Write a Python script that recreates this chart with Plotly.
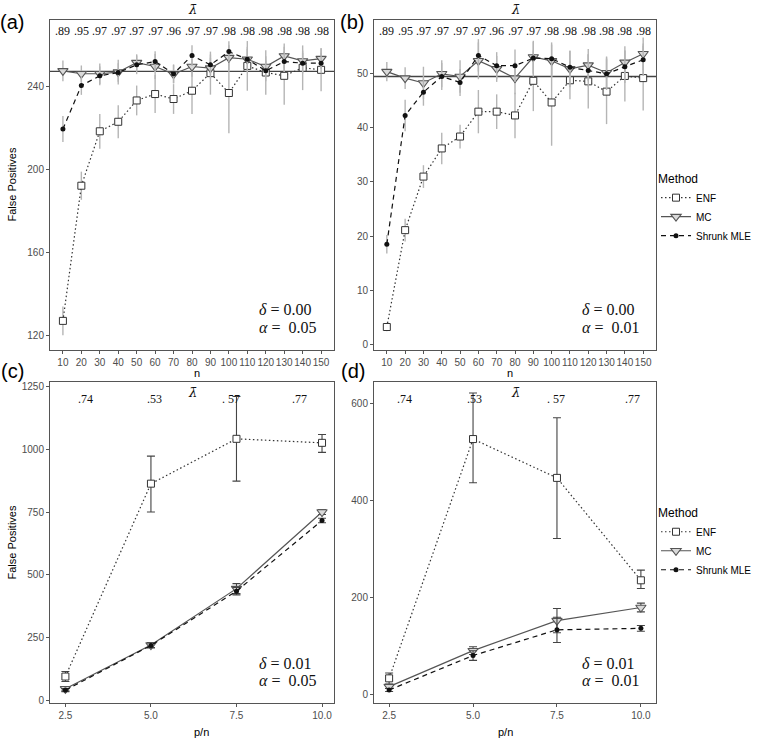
import plotly.graph_objects as go

W, H = 758, 742

# ---------------- data ----------------
n_vals = [10, 20, 30, 40, 50, 60, 70, 80, 90, 100, 110, 120, 130, 140, 150]
lam_top = [".89", ".95", ".97", ".97", ".97", ".97", ".96", ".97", ".97", ".98", ".98", ".98", ".98", ".98", ".98"]

a_enf = [126.9, 192.2, 218.5, 223.1, 233.4, 236.5, 234.1, 238.1, 246.6, 237.0, 250.1, 246.9, 245.3, 249.2, 248.2]
a_enf_err = [7.0, 6.8, 8.4, 8.0, 7.2, 9.2, 7.2, 11.2, 10.4, 19.5, 12.0, 10.8, 14.0, 10.8, 10.4]
a_mc = [247.7, 246.3, 246.3, 247.1, 251.7, 249.8, 246.1, 249.8, 249.0, 254.1, 253.3, 249.8, 254.9, 252.5, 253.6]
a_mc_err = [5.0, 4.0, 5.0, 6.0, 4.0, 6.0, 4.5, 5.0, 5.0, 6.0, 6.0, 5.0, 6.0, 5.0, 5.0]
a_mle = [219.6, 240.6, 245.3, 246.9, 250.6, 252.2, 246.3, 255.1, 250.6, 257.0, 253.3, 247.7, 252.2, 251.4, 251.4]
a_mle_err = [6.3, 4.5, 4.5, 4.5, 4.5, 5.0, 4.5, 5.0, 5.0, 5.0, 5.0, 5.0, 5.0, 5.0, 5.0]
a_expected = 247.5

b_enf = [3.2, 21.1, 31.0, 36.2, 38.4, 43.0, 43.0, 42.3, 48.7, 44.7, 48.8, 48.6, 46.7, 49.6, 49.2]
b_enf_err = [0.8, 2.1, 2.1, 2.9, 2.2, 4.0, 3.2, 4.2, 5.6, 8.0, 3.5, 5.0, 6.0, 4.7, 6.0]
b_mc = [50.4, 49.2, 48.3, 50.0, 49.5, 52.4, 50.9, 49.2, 53.1, 52.4, 50.9, 51.6, 50.2, 52.1, 53.7]
b_mc_err = [1.8, 2.0, 3.0, 2.5, 3.0, 3.4, 2.4, 3.0, 3.0, 3.0, 3.4, 3.0, 3.0, 3.0, 3.0]
b_mle = [18.5, 42.3, 46.6, 49.5, 48.4, 53.4, 51.5, 51.5, 52.9, 52.8, 51.2, 50.6, 50.0, 51.3, 52.6]
b_mle_err = [1.7, 2.9, 2.5, 2.5, 2.5, 3.0, 2.5, 3.0, 3.0, 3.0, 3.0, 3.0, 3.0, 3.0, 3.0]
b_expected = 49.5

pn_vals = [2.5, 5.0, 7.5, 10.0]
lam_bot = [".74", ".53", ". 57", ".77"]

c_enf = [94, 864, 1043, 1027]
c_enf_up = [20, 110, 169, 33]
c_enf_dn = [20, 113, 169, 38]
c_mc = [45, 220, 445, 751]
c_mc_err = [8, 10, 20, 10]
c_mle = [40, 218, 435, 717]
c_mle_err = [6, 10, 15, 9]

d_enf = [34, 527, 447, 236]
d_enf_up = [11, 95, 124, 21]
d_enf_dn = [12, 90, 125, 17]
d_mc = [17, 91, 153, 180]
d_mc_err = [4, 8, 25, 9]
d_mle = [10, 81, 134, 137]
d_mle_err = [3, 10, 26, 6]

methods = ["ENF", "MC", "Shrunk MLE"]

# ---------------- styling ----------------
SANS = "Liberation Sans, Arial, sans-serif"
SERIF = "Liberation Serif, Times New Roman, serif"
LAMF = "DejaVu Serif, serif"

style = {
    "ENF": dict(line=dict(color="#333333", width=1.2, dash="1.5px,2.5px"),
                marker=dict(symbol="square", size=7, color="white",
                            line=dict(color="#333333", width=1))),
    "MC": dict(line=dict(color="#555555", width=1.2, dash="solid"),
               marker=dict(symbol="triangle-down", size=9, color="#d9d9d9",
                           line=dict(color="#555555", width=1.1))),
    "Shrunk MLE": dict(line=dict(color="#111111", width=1.2, dash="5px,4px"),
                       marker=dict(symbol="circle", size=5, color="#111111",
                                   line=dict(width=0))),
}

fig = go.Figure()


def add_panel(xs, series, axis_suffix, top, legend_name):
    xa = "x" + axis_suffix
    ya = "y" + axis_suffix
    for name, (vals, up, dn) in zip(methods, series):
        if top:
            err = dict(type="data", array=up, color="#b5b5b5", thickness=1.4, width=0)
        else:
            err = dict(type="data", array=up, arrayminus=dn, symmetric=False,
                       color="#444444", thickness=1.1, width=4)
        fig.add_trace(go.Scatter(
            x=xs, y=vals, mode="lines+markers", name=name,
            line=style[name]["line"], marker=style[name]["marker"],
            error_y=err, xaxis=xa, yaxis=ya,
            legend=legend_name,
            showlegend=(axis_suffix in ("", "3")),
        ))


add_panel(n_vals, [(a_enf, a_enf_err, a_enf_err), (a_mc, a_mc_err, a_mc_err),
                   (a_mle, a_mle_err, a_mle_err)], "", True, "legend")
add_panel(n_vals, [(b_enf, b_enf_err, b_enf_err), (b_mc, b_mc_err, b_mc_err),
                   (b_mle, b_mle_err, b_mle_err)], "2", True, "legend")
add_panel(pn_vals, [(c_enf, c_enf_up, c_enf_dn), (c_mc, c_mc_err, c_mc_err),
                    (c_mle, c_mle_err, c_mle_err)], "3", False, "legend2")
add_panel(pn_vals, [(d_enf, d_enf_up, d_enf_dn), (d_mc, d_mc_err, d_mc_err),
                    (d_mle, d_mle_err, d_mle_err)], "4", False, "legend2")

# ---------------- layout ----------------
x_left = [50 / W, 334 / W]
x_right = [374 / W, 656 / W]
y_top = [1 - 351 / H, 1 - 20 / H]
y_bot = [1 - 705 / H, 1 - 383 / H]

axis_common = dict(showline=True, linecolor="#555555", linewidth=1, mirror=True,
                   ticks="outside", ticklen=3, tickcolor="#555555", tickwidth=1,
                   tickfont=dict(family=SANS, size=10, color="#4d4d4d"),
                   showgrid=False, zeroline=False, tickangle=0)

leg_common = dict(xanchor="left", yanchor="top",
                  title=dict(text="Method", font=dict(family=SANS, size=12, color="#000")),
                  font=dict(family=SANS, size=10, color="#000"), itemwidth=30,
                  bgcolor="rgba(0,0,0,0)", tracegroupgap=0, borderwidth=0)

fig.update_layout(
    width=W, height=H, margin=dict(l=0, r=0, t=0, b=0),
    paper_bgcolor="white", plot_bgcolor="white",
    xaxis=dict(domain=x_left, anchor="y", range=[3, 157], tickmode="array",
               tickvals=n_vals, **axis_common),
    yaxis=dict(domain=y_top, anchor="x", range=[112.8, 272.3], dtick=40, tick0=0,
               **axis_common),
    xaxis2=dict(domain=x_right, anchor="y2", range=[3, 157], tickmode="array",
                tickvals=n_vals, **axis_common),
    yaxis2=dict(domain=y_top, anchor="x2", range=[-1.06, 59.95], dtick=10, tick0=0,
                **axis_common),
    xaxis3=dict(domain=x_left, anchor="y3", range=[2.05, 10.35], tickmode="array",
                tickvals=pn_vals, tickformat=".1f", **axis_common),
    yaxis3=dict(domain=y_bot, anchor="x3", range=[-12, 1270], dtick=250, tick0=0,
                **axis_common),
    xaxis4=dict(domain=x_right, anchor="y4", range=[2.05, 10.45], tickmode="array",
                tickvals=pn_vals, tickformat=".1f", **axis_common),
    yaxis4=dict(domain=y_bot, anchor="x4", range=[-17, 644.6], dtick=200, tick0=0,
                **axis_common),
    legend=dict(x=656 / W, y=1 - 168 / H, **leg_common),
    legend2=dict(x=656 / W, y=1 - 503 / H, **leg_common),
    showlegend=True,
)

# expected false positive reference lines
for xa, ya, val in [("x", "y", a_expected), ("x2", "y2", b_expected)]:
    fig.add_shape(type="line", xref=xa + " domain", x0=0, x1=1, yref=ya, y0=val, y1=val,
                  line=dict(color="#444444", width=1.3), layer="below")

ann = []
lam_sym = "<i>\u03bb\u0304</i>"

# lambda-bar labels, top panels
for xa, ya in [("x", "y"), ("x2", "y2")]:
    for xv, t in zip(n_vals, lam_top):
        ann.append(dict(x=xv, xref=xa, y=0.967, yref=ya + " domain", text=t, showarrow=False,
                        font=dict(family=SERIF, size=12, color="#111"), xanchor="center",
                        yanchor="middle"))
    ann.append(dict(x=0.5, xref=xa + " domain", y=1 - 10 / H, yref="paper", text=lam_sym,
                    showarrow=False, font=dict(family=LAMF, size=13, color="#111"),
                    yanchor="middle"))

# lambda-bar labels, bottom panels
lab_pos_c = [3.09, 5.09, 7.35, 9.33]
lab_pos_d = [2.96, 5.03, 7.47, 9.76]
for xa, ya, pos in [("x3", "y3", lab_pos_c), ("x4", "y4", lab_pos_d)]:
    for xv, t in zip(pos, lam_bot):
        ann.append(dict(x=xv, xref=xa, y=1 - (400 - 383) / 322, yref=ya + " domain", text=t,
                        showarrow=False, font=dict(family=SERIF, size=12, color="#111"),
                        yanchor="middle"))
    ann.append(dict(x=0.5, xref=xa + " domain", y=1 - (394 - 383) / 322, yref=ya + " domain",
                    text=lam_sym, showarrow=False,
                    font=dict(family=LAMF, size=13, color="#111"), yanchor="middle"))

# delta / alpha
params = [("x", "y", "0.00", "0.05", True), ("x2", "y2", "0.00", "0.01", True),
          ("x3", "y3", "0.01", "0.05", False), ("x4", "y4", "0.01", "0.01", False)]
for xa, ya, d, a, top in params:
    if top:
        yd, yal = (351 - 310) / 331, (351 - 328) / 331
    else:
        yd, yal = (705 - 665) / 322, (705 - 682) / 322
    for txt, yy in [("<i>\u03b4</i> = " + d, yd), ("<i>\u03b1</i> =\u00a0\u00a0" + a, yal)]:
        ann.append(dict(x=0.73, xref=xa + " domain", y=yy, yref=ya + " domain", text=txt,
                        showarrow=False, xanchor="left", yanchor="middle",
                        font=dict(family=SERIF, size=16, color="#111")))

# panel tags
for t, x, y in [("(a)", 12, 22), ("(b)", 352, 22), ("(c)", 12, 372), ("(d)", 353, 372)]:
    ann.append(dict(x=x / W, y=1 - y / H, xref="paper", yref="paper", text=t, showarrow=False,
                    font=dict(family=SANS, size=20, color="#000"), xanchor="center",
                    yanchor="middle"))

# axis titles
for xc, y, t in [(191.5, 374, "n"), (515, 374, "n"), (192, 734, "p/n"), (515, 734, "p/n")]:
    ann.append(dict(x=xc / W, y=1 - y / H, xref="paper", yref="paper", text=t, showarrow=False,
                    font=dict(family=SANS, size=11, color="#000"), yanchor="middle"))
for y in [185, 544]:
    ann.append(dict(x=12 / W, y=1 - y / H, xref="paper", yref="paper", text="False Positives",
                    textangle=-90, showarrow=False,
                    font=dict(family=SANS, size=11, color="#000"), xanchor="center",
                    yanchor="middle"))

fig.update_layout(annotations=ann)

fig.write_html("out.html", config={"displayModeBar": False},
               post_script="document.body.style.margin='0px';")
